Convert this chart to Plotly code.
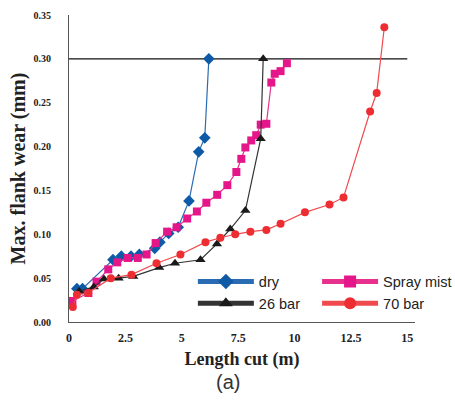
import plotly.graph_objects as go

# Dry
dry_x = [0.35, 0.6, 1.95, 2.32, 2.75, 3.12, 3.8, 4.03, 4.42, 4.84, 5.32, 5.75, 6.02, 6.2]
dry_y = [0.038, 0.038, 0.071, 0.075, 0.075, 0.077, 0.084, 0.091, 0.101, 0.108, 0.138, 0.194, 0.210, 0.300]

# Spray mist
mist_x = [0.15, 0.86, 1.22, 1.74, 2.14, 2.6, 3.05, 3.44, 3.84, 4.35, 4.77, 5.24, 5.67, 6.09,
          6.57, 7.02, 7.42, 7.64, 7.82, 8.08, 8.3, 8.5, 8.75, 8.97, 9.12, 9.38, 9.66]
mist_y = [0.024, 0.033, 0.046, 0.060, 0.068, 0.073, 0.073, 0.077, 0.090, 0.103, 0.108, 0.118, 0.126, 0.136,
          0.145, 0.156, 0.171, 0.186, 0.199, 0.207, 0.213, 0.225, 0.226, 0.273, 0.283, 0.286, 0.295]

# 26 bar
b26_x = [0.45, 1.1, 1.55, 2.2, 2.85, 4.0, 4.7, 5.83, 6.56, 7.15, 7.82, 8.5, 8.61]
b26_y = [0.035, 0.040, 0.049, 0.050, 0.052, 0.062, 0.067, 0.071, 0.089, 0.106, 0.127, 0.209, 0.300]

# 70 bar
b70_x = [0.17, 0.35, 0.85, 1.85, 2.77, 3.88, 4.94, 6.05, 6.71, 7.37, 8.04, 8.75, 9.38, 10.46,
         11.55, 12.17, 13.35, 13.64, 13.98]
b70_y = [0.017, 0.031, 0.033, 0.050, 0.054, 0.067, 0.077, 0.091, 0.096, 0.100, 0.103, 0.105, 0.112, 0.125,
         0.134, 0.142, 0.240, 0.261, 0.336]

x_ticks = [0, 2.5, 5, 7.5, 10, 12.5, 15]
x_tick_text = ["0", "2.5", "5", "7.5", "10", "12.5", "15"]
y_ticks = [0.00, 0.05, 0.10, 0.15, 0.20, 0.25, 0.30, 0.35]
y_tick_text = ["0.00", "0.05", "0.10", "0.15", "0.20", "0.25", "0.30", "0.35"]

limit_wear = 0.30
limit_x = [0, 15]

fig = go.Figure()
fig.add_trace(go.Scatter(x=dry_x, y=dry_y, name="dry", mode="lines+markers", legend="legend",
                         line=dict(color="#2a6cb3", width=1.2),
                         marker=dict(symbol="diamond", size=9, color="#0e5aa7")))
fig.add_trace(go.Scatter(x=mist_x, y=mist_y, name="Spray mist", mode="lines+markers", legend="legend2",
                         line=dict(color="#e8308f", width=1.2),
                         marker=dict(symbol="square", size=8, color="#e5168a")))
fig.add_trace(go.Scatter(x=b26_x, y=b26_y, name="26 bar", mode="lines+markers", legend="legend",
                         line=dict(color="#333333", width=1.2),
                         marker=dict(symbol="triangle-up", size=9, color="#1a1a1a")))
fig.add_trace(go.Scatter(x=b70_x, y=b70_y, name="70 bar", mode="lines+markers", legend="legend2",
                         line=dict(color="#f04a4e", width=1.2),
                         marker=dict(symbol="circle", size=8, color="#ee2d33")))

fig.add_shape(type="line", xref="x", yref="y", x0=limit_x[0], x1=limit_x[1],
              y0=limit_wear, y1=limit_wear, line=dict(color="#111111", width=1.3), layer="below")

fig.add_annotation(text="(a)", xref="paper", yref="paper", x=0.46, y=-0.197,
                   xanchor="center", yanchor="middle", showarrow=False,
                   font=dict(family="Liberation Sans", size=20, color="#333333"))

legend_style = dict(orientation="v", yanchor="top", xanchor="left", y=0.184,
                    itemsizing="constant", itemwidth=56,
                    font=dict(family="Liberation Sans", size=14.5, color="#222222"),
                    bgcolor="rgba(0,0,0,0)")

fig.update_layout(
    width=455, height=405,
    margin=dict(l=69, r=40, t=15, b=83, autoexpand=False),
    paper_bgcolor="white", plot_bgcolor="white",
    showlegend=True,
    legend=dict(x=0.358, **legend_style),
    legend2=dict(x=0.717, **legend_style),
    xaxis=dict(range=[0, 15.34], tickvals=x_ticks, ticktext=x_tick_text, automargin=False,
               showgrid=False, zeroline=False, showline=True, linecolor="#555555", linewidth=1.2,
               ticks="", ticklabelstandoff=4,
               tickfont=dict(family="Liberation Serif", size=12, color="#222222", weight="bold"),
               title=dict(text="<b>Length cut (m)</b>", standoff=8,
                          font=dict(family="Liberation Serif", size=18, color="#222222"))),
    yaxis=dict(range=[0, 0.35], tickvals=y_ticks, ticktext=y_tick_text, automargin=False,
               showgrid=False, zeroline=False, showline=True, linecolor="#555555", linewidth=1.2,
               ticks="", ticklabelstandoff=15,
               tickfont=dict(family="Liberation Serif", size=10, color="#222222", weight="bold"),
               title=dict(text="<b>Max. flank wear (mm)</b>", standoff=2,
                          font=dict(family="Liberation Serif", size=20, color="#222222"))),
)

fig.write_html("out.html", config={"displayModeBar": False},
               post_script="document.body.style.margin='0px';")
